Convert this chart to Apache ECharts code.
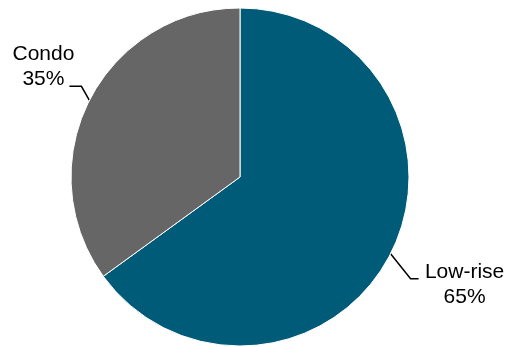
<!DOCTYPE html>
<html>
<head>
<meta charset="utf-8">
<script src="https://cdn.jsdelivr.net/npm/echarts@6/dist/echarts.min.js"></script>
<style>
  html, body { margin: 0; padding: 0; background: #fff; }
  #chart { width: 520px; height: 347px; }
</style>
</head>
<body>
<div id="chart"></div>
<script>
// Housing type share
const categories = ['Low-rise', 'Condo'];
const shares = [65, 35];
const sliceColors = ['#005B79', '#666666'];
// leader line bends: first leg from the slice edge, then the horizontal leg
const leaderBends = [[20, 25], [-8, -14]];
const leaderTails = [8, -12];
// offset of label centre from the end of its leader line
const labelOffsets = [[46, 6], [-26, -20]];

const chart = echarts.init(document.getElementById('chart'));
chart.setOption({
  animation: false,
  series: [
    {
      type: 'pie',
      center: [240, 177],
      radius: 169,
      startAngle: 90,
      clockwise: true,
      data: categories.map((name, i) => ({
        name: name,
        value: shares[i],
        itemStyle: { color: sliceColors[i] }
      })),
      itemStyle: { borderColor: '#fff', borderWidth: 1 },
      label: {
        formatter: '{b}\n{d}%',
        fontSize: 21,
        lineHeight: 25,
        color: '#000',
        overflow: 'none',
        width: 120,
        fontFamily: 'Liberation Sans, Arial, sans-serif'
      },
      labelLine: {
        length: 20,
        length2: 10,
        lineStyle: { color: '#000', width: 1.5 }
      },
      labelLayout: function (params) {
        const i = params.dataIndex;
        const edge = params.labelLinePoints[0];
        const mid = [edge[0] + leaderBends[i][0], edge[1] + leaderBends[i][1]];
        const end = [mid[0] + leaderTails[i], mid[1]];
        return {
          x: end[0] + labelOffsets[i][0],
          y: end[1] + labelOffsets[i][1],
          align: 'center',
          verticalAlign: 'middle',
          labelLinePoints: [edge, mid, end]
        };
      }
    }
  ]
});
</script>
</body>
</html>
